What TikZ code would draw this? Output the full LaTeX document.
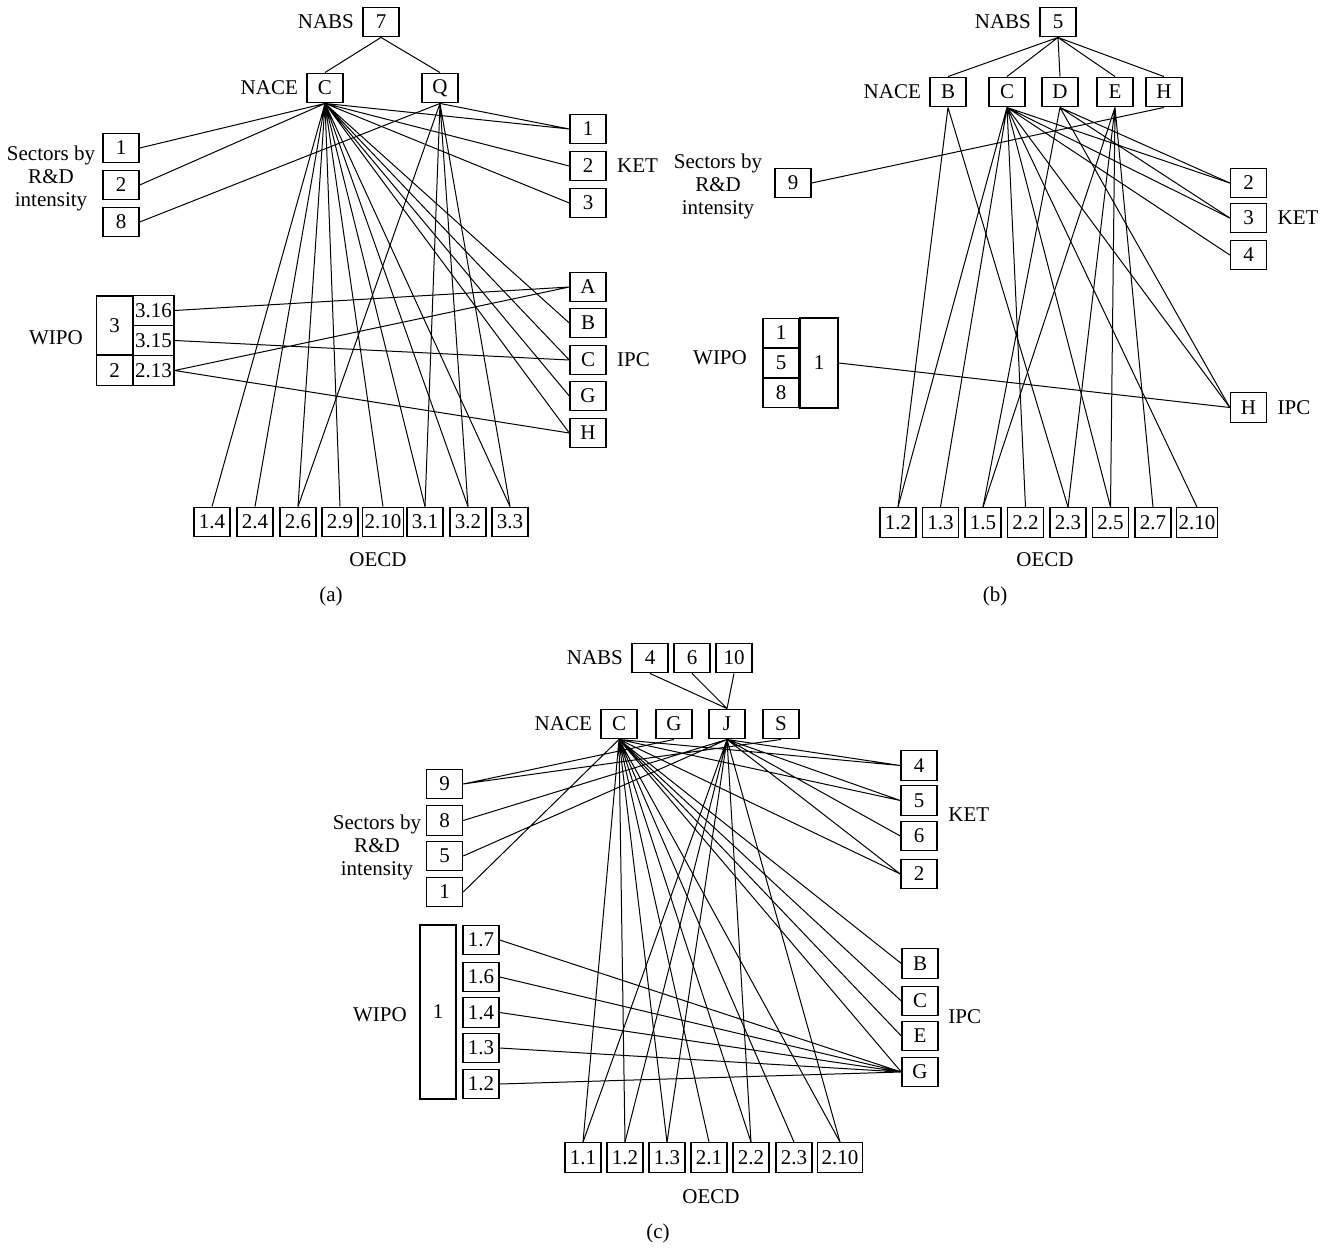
\documentclass[tikz,border=0pt]{standalone}
\usepackage{fontspec}
\setmainfont{Liberation Serif}
\usetikzlibrary{positioning}
\begin{document}
\begin{tikzpicture}[
  x=0.5pt,y=-0.5pt,
  font=\fontsize{10.5}{11.5}\selectfont,
  box/.style={draw,line width=0.7pt,minimum width=18pt,minimum height=14.75pt,inner sep=1pt},
  tag/.style={inner sep=0pt,align=center},
  ln/.style={line width=0.5pt},
  node distance=4pt
]
\useasboundingbox (0,0) rectangle (1324,1248);

\node[box] (a7) at (381,22) {7};
\node[tag,left=of a7] {NABS};
\node[box] (aC) at (325,88) {C};
\node[tag,left=of aC] {NACE};
\node[box] (aQ) at (440,88) {Q};
\node[box] (as1) at (121,148) {1};
\node[box] (as2) at (121,185) {2};
\node[box] (as8) at (121,222) {8};
\node[tag] at (51,178) {Sectors by\\R\&D\\intensity};
\node[box] (ak1) at (588,129) {1};
\node[box] (ak2) at (588,166) {2};
\node[box] (ak3) at (588,203) {3};
\node[tag,right=5pt of ak2] {KET};
\node[box] (aiA) at (588,287) {A};
\node[box] (aiB) at (588,323) {B};
\node[box] (aiC) at (588,360) {C};
\node[box] (aiG) at (588,396) {G};
\node[box] (aiH) at (588,433) {H};
\node[tag,right=5pt of aiC] {IPC};
\node[box,minimum height=29.5pt] (aw3) at (114.5,325.5) {3};
\node[box] (aw2) at (114.5,370.5) {2};
\node[box] (aw316) at (153.5,310.5) {3.16};
\node[box] (aw315) at (153.5,340.5) {3.15};
\node[box] (aw213) at (153.5,370.5) {2.13};
\node[tag] at (56,338) {WIPO};
\node[box] (ao14) at (212,522) {1.4};
\node[box] (ao24) at (255,522) {2.4};
\node[box] (ao26) at (298,522) {2.6};
\node[box] (ao29) at (340,522) {2.9};
\node[box] (ao210) at (383,522) {2.10};
\node[box] (ao31) at (425,522) {3.1};
\node[box] (ao32) at (468,522) {3.2};
\node[box] (ao33) at (510,522) {3.3};
\node[tag] at (378,560) {OECD};
\node[tag] at (331,596) {(a)};

\draw[ln] (a7.south) -- (aC.north) (a7.south) -- (aQ.north);
\draw[ln] (aC.south) -- (as1.east) (aC.south) -- (as2.east) (aQ.south) -- (as8.east);
\draw[ln] (aC.south) -- (ak1.west) (aC.south) -- (ak2.west) (aC.south) -- (ak3.west) (aQ.south) -- (ak1.west);
\draw[ln] (aC.south) -- (ao14.north) (aC.south) -- (ao24.north) (aC.south) -- (ao26.north) (aC.south) -- (ao29.north)
  (aC.south) -- (ao210.north) (aC.south) -- (ao31.north) (aC.south) -- (ao32.north) (aC.south) -- (ao33.north);
\draw[ln] (aQ.south) -- (ao26.north) (aQ.south) -- (ao31.north) (aQ.south) -- (ao32.north) (aQ.south) -- (ao33.north);
\draw[ln] (aC.south) -- (aiB.west) (aC.south) -- (aiC.west) (aC.south) -- (aiG.west) (aC.south) -- (aiH.west);
\draw[ln] (aw316.east) -- (aiA.west) (aw315.east) -- (aiC.west) (aw213.east) -- (aiA.west) (aw213.east) -- (aiH.west);

\node[box] (b5) at (1058,22) {5};
\node[tag,left=of b5] {NABS};
\node[box] (bB) at (948,92) {B};
\node[tag,left=of bB] {NACE};
\node[box] (bC) at (1007,92) {C};
\node[box] (bD) at (1060,92) {D};
\node[box] (bE) at (1115,92) {E};
\node[box] (bH) at (1164,92) {H};
\node[box] (bs9) at (793,183) {9};
\node[tag] at (718,186) {Sectors by\\R\&D\\intensity};
\node[box] (bk2) at (1248.5,183) {2};
\node[box] (bk3) at (1248.5,218) {3};
\node[box] (bk4) at (1248.5,255) {4};
\node[tag,right=5pt of bk3] {KET};
\node[box] (bih) at (1248.5,407.5) {H};
\node[tag,right=5pt of bih] {IPC};
\node[box] (bw1) at (781,333) {1};
\node[box] (bw5) at (781,363) {5};
\node[box] (bw8) at (781,393) {8};
\node[box,minimum width=19pt,minimum height=45pt] (bwb) at (819,363) {1};
\node[tag] at (720,358) {WIPO};
\node[box] (bo12) at (898,522.5) {1.2};
\node[box] (bo13) at (940.5,522.5) {1.3};
\node[box] (bo15) at (983,522.5) {1.5};
\node[box] (bo22) at (1025.5,522.5) {2.2};
\node[box] (bo23) at (1068,522.5) {2.3};
\node[box] (bo25) at (1110.5,522.5) {2.5};
\node[box] (bo27) at (1153,522.5) {2.7};
\node[box] (bo210) at (1197,522.5) {2.10};
\node[tag] at (1045,560) {OECD};
\node[tag] at (995,596) {(b)};

\draw[ln] (b5.south) -- (bB.north) (b5.south) -- (bC.north) (b5.south) -- (bD.north) (b5.south) -- (bE.north) (b5.south) -- (bH.north);
\draw[ln] (bH.south) -- (bs9.east);
\draw[ln] (bB.south) -- (bo12.north) (bB.south) -- (bo23.north);
\draw[ln] (bC.south) -- (bo12.north) (bC.south) -- (bo13.north) (bC.south) -- (bo22.north) (bC.south) -- (bo25.north) (bC.south) -- (bo210.north);
\draw[ln] (bC.south) -- (bk2.west) (bC.south) -- (bk3.west) (bC.south) -- (bk4.west) (bC.south) -- (bih.west);
\draw[ln] (bD.south) -- (bo15.north) (bD.south) -- (bk2.west) (bD.south) -- (bk3.west) (bD.south) -- (bih.west);
\draw[ln] (bE.south) -- (bo15.north) (bE.south) -- (bo23.north) (bE.south) -- (bo25.north) (bE.south) -- (bo27.north);
\draw[ln] (bwb.east) -- (bih.west);

\node[box] (c4) at (650,658) {4};
\node[tag,left=of c4] {NABS};
\node[box] (c6) at (692,658) {6};
\node[box] (c10) at (734,658) {10};
\node[box] (cC) at (619,724) {C};
\node[tag,left=of cC] {NACE};
\node[box] (cG) at (674,724) {G};
\node[box] (cJ) at (727,724) {J};
\node[box] (cS) at (781,724) {S};
\node[box] (cs9) at (444.5,784) {9};
\node[box] (cs8) at (444.5,820.5) {8};
\node[box] (cs5) at (444.5,856) {5};
\node[box] (cs1) at (444.5,892) {1};
\node[tag] at (377,847) {Sectors by\\R\&D\\intensity};
\node[box] (ck4) at (919,765.5) {4};
\node[box] (ck5) at (919,800.5) {5};
\node[box] (ck6) at (919,836) {6};
\node[box] (ck2) at (919,874) {2};
\node[tag,anchor=west] at (948,815) {KET};
\node[box] (ciB) at (920,963.5) {B};
\node[box] (ciC) at (920,1001) {C};
\node[box] (ciE) at (920,1036) {E};
\node[box] (ciG) at (920,1072) {G};
\node[tag,anchor=west] at (948,1017) {IPC};
\node[box,minimum height=87pt] (cwb) at (438,1012) {1};
\node[box] (cw17) at (481,940) {1.7};
\node[box] (cw16) at (481,977) {1.6};
\node[box] (cw14) at (481,1012.5) {1.4};
\node[box] (cw13) at (481,1048) {1.3};
\node[box] (cw12) at (481,1084) {1.2};
\node[tag] at (380,1015) {WIPO};
\node[box] (co11) at (583,1157.5) {1.1};
\node[box] (co12) at (625,1157.5) {1.2};
\node[box] (co13) at (667,1157.5) {1.3};
\node[box] (co21) at (709,1157.5) {2.1};
\node[box] (co22) at (751,1157.5) {2.2};
\node[box] (co23) at (794,1157.5) {2.3};
\node[box,minimum width=22.5pt] (co210) at (840,1157.5) {2.10};
\node[tag] at (711,1197) {OECD};
\node[tag] at (658,1233) {(c)};

\draw[ln] (c4.south) -- (cJ.north) (c6.south) -- (cJ.north) (c10.south) -- (cJ.north);
\draw[ln] (cs9.east) -- (cG.south) (cs9.east) -- (cS.south) (cs8.east) -- (cJ.south) (cs5.east) -- (cJ.south) (cs1.east) -- (cC.south);
\draw[ln] (cC.south) -- (ck4.west) (cJ.south) -- (ck4.west) (cC.south) -- (ck5.west) (cJ.south) -- (ck5.west)
  (cJ.south) -- (ck6.west) (cC.south) -- (ck2.west) (cJ.south) -- (ck2.west);
\draw[ln] (cC.south) -- (ciB.west) (cC.south) -- (ciC.west) (cC.south) -- (ciE.west) (cC.south) -- (ciG.west);
\draw[ln] (cC.south) -- (co11.north) (cC.south) -- (co12.north) (cC.south) -- (co13.north) (cC.south) -- (co21.north)
  (cC.south) -- (co22.north) (cC.south) -- (co23.north) (cC.south) -- (co210.north);
\draw[ln] (cJ.south) -- (co11.north) (cJ.south) -- (co12.north) (cJ.south) -- (co13.north) (cJ.south) -- (co22.north) (cJ.south) -- (co210.north);
\draw[ln] (cw17.east) -- (ciG.west) (cw16.east) -- (ciG.west) (cw14.east) -- (ciG.west) (cw13.east) -- (ciG.west) (cw12.east) -- (ciG.west);
\end{tikzpicture}
\end{document}
